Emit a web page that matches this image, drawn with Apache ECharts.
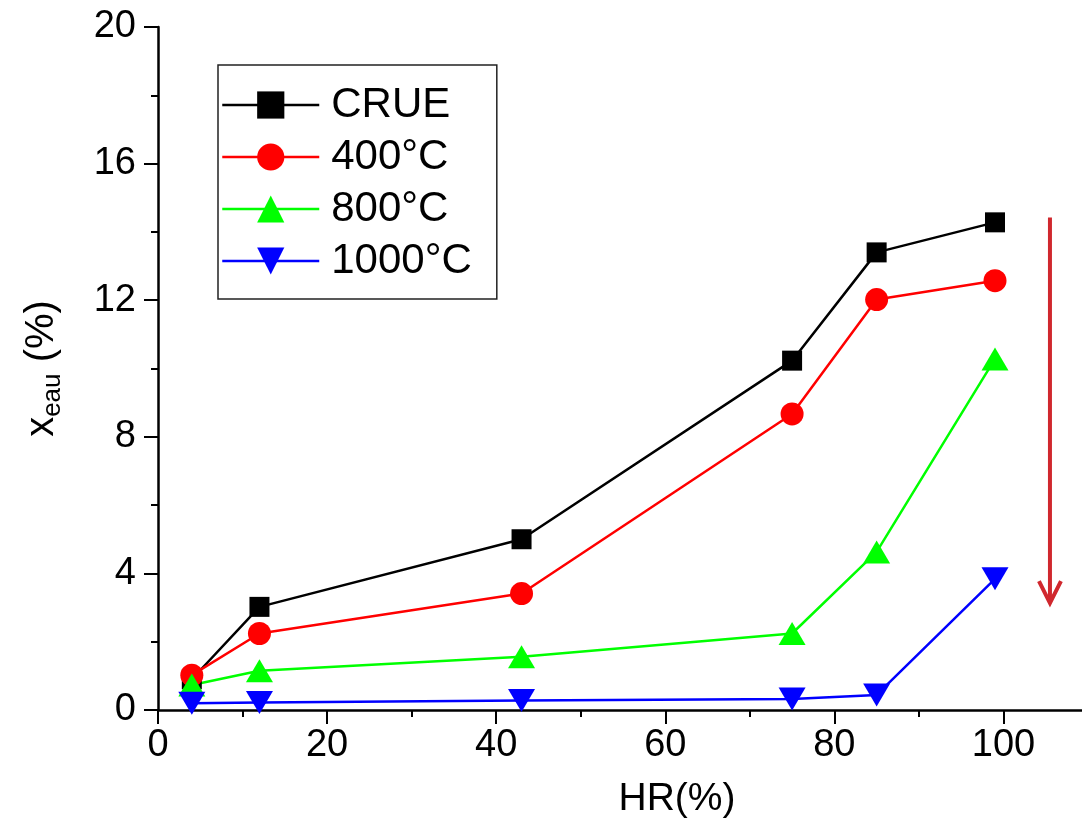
<!DOCTYPE html>
<html>
<head>
<meta charset="utf-8">
<script src="https://cdn.jsdelivr.net/npm/echarts@6/dist/echarts.min.js"></script>
<style>
  html, body { margin: 0; padding: 0; background: #fff; }
  #chart { width: 1082px; height: 821px; }
</style>
</head>
<body>
<div id="chart"></div>
<script>
// HR (%) values and water content per treatment
var hr = [4, 12, 43, 75, 85, 99];
var crue = [0.9, 3.02, 5.0, 10.23, 13.4, 14.28];
var t400 = [1.02, 2.24, 3.41, 8.67, 12.02, 12.57];
var t800 = [0.73, 1.15, 1.56, 2.24, 4.63, 10.28];
var t1000 = [0.2, 0.22, 0.28, 0.32, 0.44, 3.84];
var names = ['CRUE', '400°C', '800°C', '1000°C'];
// trend arrow (x, y start -> y end)
var arrowX = [105.5, 105.5];
var arrowY = [14.42, 3.13];

var font = 'Liberation Sans, Arial, sans-serif';

function pairs(xs, ys) {
  return xs.map(function (x, i) { return [x, ys[i]]; });
}

function makeSeries(name, ys, color, symbol, size, rotate) {
  return {
    name: name,
    type: 'line',
    data: pairs(hr, ys),
    symbol: symbol,
    symbolSize: size,
    symbolRotate: rotate || 0,
    showAllSymbol: true,
    lineStyle: { color: color, width: 2.5 },
    itemStyle: { color: color },
    animation: false
  };
}

var chart = echarts.init(document.getElementById('chart'));

var option = {
  backgroundColor: '#fff',
  animation: false,
  grid: { left: 158, top: 27, right: -6, bottom: 111, outerBoundsMode: 'none' },
  legend: {
    data: names,
    orient: 'vertical',
    left: 218,
    top: 65,
    itemWidth: 97,
    itemHeight: 34,
    itemGap: 10,
    padding: [19, 25, 17, 3],
    borderColor: '#222',
    borderWidth: 1.5,
    textStyle: { fontSize: 42, color: '#000', fontFamily: font, padding: [0, 0, 0, 7] },
    itemStyle: { borderWidth: 0 },
    lineStyle: { width: 2.5 }
  },
  xAxis: {
    type: 'value',
    min: 0,
    max: 110,
    interval: 20,
    name: 'HR(%)',
    nameLocation: 'middle',
    nameGap: 70,
    nameTextStyle: { fontSize: 39, color: '#000', fontFamily: font, padding: [0, 0, 0, 108] },
    axisLine: { lineStyle: { color: '#000', width: 2.5 } },
    axisTick: { show: true, length: 14, lineStyle: { width: 2, color: '#000' } },
    minorTick: { show: true, splitNumber: 2, length: 7, lineStyle: { width: 2, color: '#000' } },
    axisLabel: {
      fontSize: 38, color: '#000', fontFamily: font, margin: 17,
      formatter: function (v) { return v <= 100 ? String(v) : ''; }
    },
    splitLine: { show: false }
  },
  yAxis: {
    type: 'value',
    min: 0,
    max: 20,
    interval: 4,
    name: 'x{sub|eau} (%)',
    nameLocation: 'middle',
    nameGap: 92,
    nameRotate: 90,
    nameTextStyle: {
      fontSize: 40, color: '#000', fontFamily: font, lineHeight: 48,
      rich: {
        sub: { fontSize: 26, fontFamily: font, color: '#000', lineHeight: 26, verticalAlign: 'bottom' }
      }
    },
    axisLine: { show: true, lineStyle: { color: '#000', width: 2.5 } },
    axisTick: { show: true, length: 14, lineStyle: { width: 2, color: '#000' } },
    minorTick: { show: true, splitNumber: 2, length: 7, lineStyle: { width: 2, color: '#000' } },
    axisLabel: { fontSize: 38, color: '#000', fontFamily: font, margin: 22 },
    splitLine: { show: false }
  },
  series: [
    makeSeries(names[0], crue, '#000000', 'rect', 20),
    makeSeries(names[1], t400, '#ff0000', 'circle', 23),
    makeSeries(names[2], t800, '#00ff00', 'triangle', [27, 23]),
    makeSeries(names[3], t1000, '#0000ff', 'triangle', [27, 23], 180),
    {
      name: 'arrow',
      type: 'line',
      data: pairs(arrowX, arrowY),
      symbol: function (val, params) {
        return params.dataIndex === 1 ? 'path://M0,0L10,10L20,0' : 'none';
      },
      symbolSize: [22, 22],
      symbolOffset: [0, -11],
      showAllSymbol: true,
      lineStyle: { color: '#d0282e', width: 4 },
      itemStyle: { color: 'transparent', borderColor: '#d0282e', borderWidth: 4 },
      silent: true,
      animation: false
    }
  ]
};

chart.setOption(option);
</script>
</body>
</html>
